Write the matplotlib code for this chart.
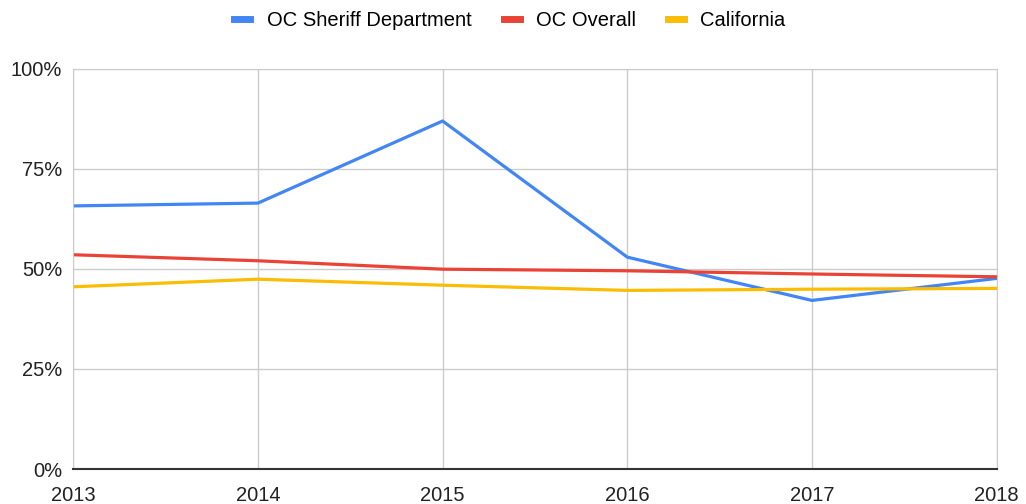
import matplotlib.pyplot as plt
from matplotlib.ticker import FuncFormatter

plt.rcParams['font.family'] = ['Liberation Sans', 'DejaVu Sans']

# Data (percent)
years = [2013, 2014, 2015, 2016, 2017, 2018]
oc_sheriff = [65.7, 66.4, 86.9, 52.9, 42.1, 47.6]
oc_overall = [53.5, 52.0, 49.9, 49.5, 48.7, 48.0]
california = [45.5, 47.4, 45.9, 44.6, 44.9, 45.1]

fig = plt.figure(figsize=(10.26, 5.04), dpi=100)
ax = fig.add_axes([0.0714, 0.0694, 0.9, 0.7946])

ax.plot(years, oc_sheriff, color='#4285F4', lw=2.3, label='OC Sheriff Department')
ax.plot(years, oc_overall, color='#EA4335', lw=2.3, label='OC Overall')
ax.plot(years, california, color='#FBBC04', lw=2.3, label='California')

ax.set_xlim(2013, 2018)
ax.set_ylim(0, 100)
ax.set_xticks(years)
ax.set_yticks([0, 25, 50, 75, 100])
ax.yaxis.set_major_formatter(FuncFormatter(lambda v, p: f'{v:.0f}%'))

ax.grid(True, color='#cccccc', lw=1)
ax.set_axisbelow(True)
for side in ['top', 'left', 'right']:
    ax.spines[side].set_color('#cccccc')
ax.spines['bottom'].set_color('#333333')
ax.spines['bottom'].set_linewidth(1.5)
ax.tick_params(length=0, labelsize=14.5, colors='#222222')
ax.tick_params(axis='x', pad=12)
ax.tick_params(axis='y', pad=8)

fig.legend(loc='center', bbox_to_anchor=(0.497, 0.96), ncol=3, frameon=False,
           fontsize=14.5, handlelength=0.8, handletextpad=0.8,
           columnspacing=1.6)
for h in fig.legends[0].legend_handles:
    h.set_linewidth(5)

fig.savefig('out.png', dpi=100)
